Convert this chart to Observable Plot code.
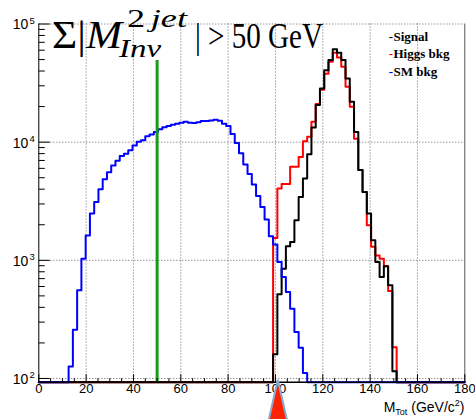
<!DOCTYPE html>
<html><head><meta charset="utf-8">
<script src="https://cdn.jsdelivr.net/npm/d3@7"></script>
<script src="https://cdn.jsdelivr.net/npm/@observablehq/plot@0.6"></script>
<style>html,body{margin:0;padding:0;background:#fff;} #chart svg{display:block;}</style>
</head><body><div id="chart"></div>
<script>
// ---- histogram binning (100 bins from 0 to 180 GeV/c^2) ----
const binWidth = 1.8;
const nBins = 100;

// ---- series values (events per bin); start = first non-empty bin ----
const signalStart = 55;
const signalValues = [160,515,850,1315,1430,2180,3440,4920,7910,13300,20600,28500,40700,49500,61100,57200,49500,34600,22000,12200,5800,3790,2490,1475,968,722,890,614,115];
const higgsStart = 55;
const higgsValues = [1545,4050,4430,4430,6180,6180,7500,10200,11100,14850,21000,27800,38000,47900,57000,52000,43400,29400,19900,10700,5800,3790,1980,1300,1100,1033,890,550,184];
const smStart = 7;
const smValues = [126,259,557,1030,1620,2490,3120,4000,4860,5570,6350,6950,7650,7960,8550,9380,10070,10400,
  11200,11600,12160,12890,13400,13700,14060,14330,14610,14900,14610,14500,14730,15070,15070,15280,15450,15170,14300,13700,
  11700,9860,8040,6470,5380,4380,3510,2830,2220,1600,1360,968,722,539,389,247,182,111];

// ---- legend ----
const legendLabels = ["Signal", "Higgs bkg", "SM bkg"];
const legendColors = ["#000000", "#ff0000", "#0000ff"];

// ---- axes ----
const xTickValues = [0, 20, 40, 60, 80, 100, 120, 140, 160, 180];
const xGridValues = [20, 40, 60, 80, 100, 120, 140, 160];
const yMajorTicks = [100, 1000, 10000, 100000];
const yTickExponents = ["2", "3", "4", "5"];
const yMin = 93, yMax = 100000;

// ---- annotations ----
const cutValue = 50;       // green cut line
const cutLineTop = 49000;
const markerX = 101;       // triangle marker on the x axis

const ML = 38.3, MR = 10.7, MT = 23.5, MB = 37.3, W = 475, H = 419;

function expand(start, values) {
  const a = new Array(nBins).fill(0);
  values.forEach((v, i) => a[start + i] = v);
  return a;
}
function stepData(arr) {
  const pts = arr.map((v, i) => ({x: i * binWidth, y: v > 0 ? v : yMin}));
  pts.push({x: nBins * binWidth, y: pts[pts.length - 1].y});
  return pts;
}
const signal = stepData(expand(signalStart, signalValues));
const higgs = stepData(expand(higgsStart, higgsValues));
const sm = stepData(expand(smStart, smValues));

const xMinorTicks = d3.range(0, 181, 5).filter(d => d % 20 !== 0);
const xMajorTicks = xTickValues;
const yMinorTicks = [];
for (const dec of [100, 1000, 10000]) for (let m = 2; m <= 9; m++) yMinorTicks.push(dec * m);

const tickUp = L => ({draw(ctx) { ctx.moveTo(0, 0); ctx.lineTo(0, -L); }});
const tickRight = L => ({draw(ctx) { ctx.moveTo(0, 0); ctx.lineTo(L, 0); }});
const triangleSym = {draw(ctx) { ctx.moveTo(0, 0); ctx.lineTo(-10, 44); ctx.lineTo(10, 44); ctx.closePath(); }};

const grid = {stroke: "#666", strokeDasharray: "1,2", strokeWidth: 1};
const serif = "Liberation Serif, Times New Roman, serif";
const sans = "Liberation Sans, Arial, Helvetica, sans-serif";

const legendMarks = legendLabels.flatMap((lab, i) => {
  const base = 40.7 + i * 17.2;
  return [
    Plot.text([lab], {text: d => d, frameAnchor: "top-right", dx: 393 - (W - MR), dy: base - MT, textAnchor: "start", lineAnchor: "bottom", fontFamily: serif, fontWeight: "bold", fontSize: 13, fill: "#000"}),
    Plot.text(["-"], {text: d => d, frameAnchor: "top-right", dx: 388.2 - (W - MR), dy: base - MT, textAnchor: "start", lineAnchor: "bottom", fontFamily: serif, fontWeight: "bold", fontSize: 13, fill: legendColors[i]})
  ];
});

const chart = Plot.plot({
  width: W, height: H,
  marginLeft: ML, marginRight: MR, marginTop: MT, marginBottom: MB,
  x: {domain: [0, 180], axis: null},
  y: {type: "log", domain: [yMin, yMax], axis: null},
  style: {background: "#fff", fontFamily: sans},
  marks: [
    Plot.ruleX(xGridValues, {x: d => d, ...grid}),
    Plot.ruleY(yMajorTicks, {y: d => d, ...grid}),
    Plot.ruleX([180], {x: d => d, stroke: "#555", strokeWidth: 1}),
    Plot.line(higgs, {x: "x", y: "y", curve: "step-after", stroke: "#ff0000", strokeWidth: 2}),
    Plot.line(signal, {x: "x", y: "y", curve: "step-after", stroke: "#000000", strokeWidth: 2}),
    Plot.line(sm, {x: "x", y: "y", curve: "step-after", stroke: "#0000ff", strokeWidth: 2}),
    Plot.ruleX([cutValue], {x: d => d, y1: yMin, y2: cutLineTop, stroke: "#1a9a1a", strokeWidth: 3}),
    Plot.ruleX([0], {x: d => d, stroke: "#000", strokeWidth: 1}),
    Plot.ruleY([yMin], {y: d => d, stroke: "#000", strokeWidth: 1.5}),
    Plot.dot(xMinorTicks, {x: d => d, frameAnchor: "bottom", symbol: tickUp(4), fill: "none", stroke: "#000", strokeWidth: 1}),
    Plot.dot(xMajorTicks, {x: d => d, frameAnchor: "bottom", symbol: tickUp(8), fill: "none", stroke: "#000", strokeWidth: 1}),
    Plot.dot(yMinorTicks, {y: d => d, frameAnchor: "left", symbol: tickRight(6), fill: "none", stroke: "#000", strokeWidth: 1}),
    Plot.dot(yMajorTicks, {y: d => d, frameAnchor: "left", symbol: tickRight(11), fill: "none", stroke: "#000", strokeWidth: 1}),
    Plot.text(xTickValues, {x: d => d, frameAnchor: "bottom", dy: 10.5, text: d => String(d), fontSize: 13, fontFamily: sans, fill: "#000"}),
    Plot.text(yMajorTicks, {y: d => d, frameAnchor: "left", dx: -10.5, dy: 1, text: () => "10", textAnchor: "end", fontSize: 14, fontFamily: sans, fill: "#000"}),
    Plot.text(yMajorTicks, {y: d => d, frameAnchor: "left", dx: -9.3, dy: -3.5, text: (d, i) => yTickExponents[i], textAnchor: "start", fontSize: 9.5, fontFamily: sans, fill: "#000"}),
    ...legendMarks,
    Plot.dot([markerX], {x: d => d, frameAnchor: "bottom", dy: -2.4, symbol: triangleSym, fill: "#ff2200", stroke: "#86aad2", strokeWidth: 2})
  ]
});

// Title (TLatex-like) and x-axis title with sub/superscripts
const svg = d3.select(chart);
const title = svg.append("g").attr("font-family", serif).attr("fill", "#000").attr("text-anchor", "start");
const t1 = title.append("text").attr("x", 52).attr("y", 48).attr("font-size", 40)
  .attr("textLength", 70).attr("lengthAdjust", "spacingAndGlyphs");
t1.append("tspan").text("Σ|");
t1.append("tspan").attr("font-style", "italic").text("M");
const t2 = title.append("text").attr("x", 127).attr("y", 27).attr("font-size", 26)
  .attr("textLength", 60).attr("lengthAdjust", "spacingAndGlyphs");
t2.append("tspan").text("2");
t2.append("tspan").attr("font-style", "italic").attr("dx", 4).text("jet");
title.append("text").attr("x", 119).attr("y", 57).attr("font-size", 26).attr("font-style", "italic")
  .attr("textLength", 42).attr("lengthAdjust", "spacingAndGlyphs").text("Inv");
title.append("text").attr("x", 195).attr("y", 48).attr("font-size", 36)
  .attr("textLength", 128).attr("lengthAdjust", "spacingAndGlyphs").text("| > 50 GeV");

const xt = svg.append("text").attr("x", 464.5).attr("y", 411.7).attr("text-anchor", "end").attr("font-family", sans).attr("font-size", 14).attr("fill", "#000");
xt.append("tspan").text("M");
xt.append("tspan").attr("font-size", 9).attr("dy", 3.5).text("Tot");
xt.append("tspan").attr("font-size", 14).attr("dy", -3.5).text(" (GeV/c");
xt.append("tspan").attr("font-size", 9).attr("dy", -5.5).text("2");
xt.append("tspan").attr("font-size", 14).attr("dy", 5.5).text(")");

document.getElementById("chart").appendChild(chart);
</script>
</body></html>
